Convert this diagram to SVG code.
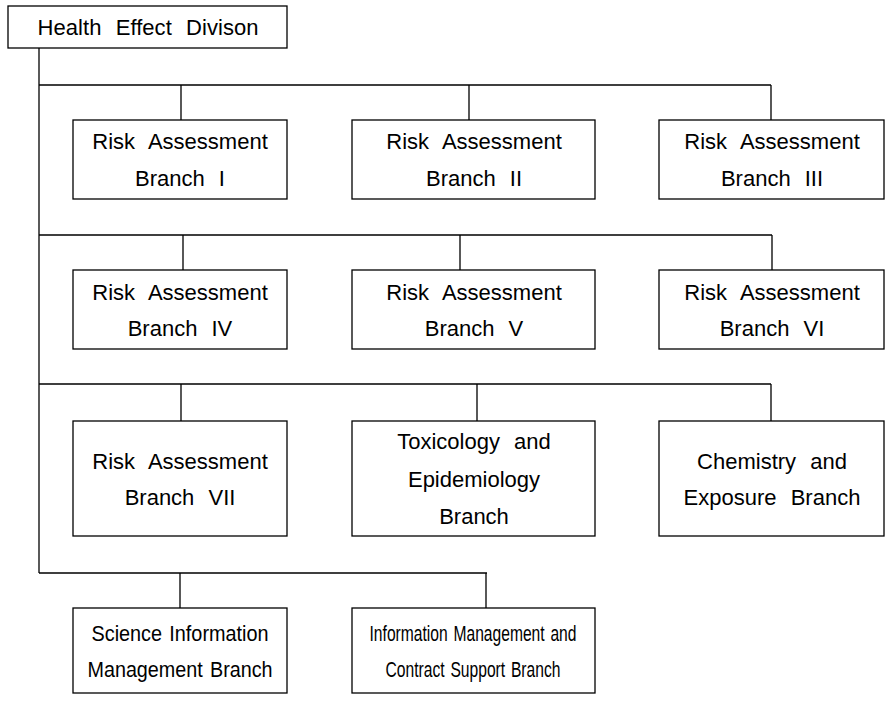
<svg xmlns="http://www.w3.org/2000/svg" width="892" height="706" viewBox="0 0 892 706">
<style>
.box{fill:#fff;stroke:#000;stroke-width:1.3}
.ln{fill:none;stroke:#000;stroke-width:1.3}
text{font-family:"Liberation Sans",Arial,sans-serif;font-size:22px;fill:#000;text-anchor:middle;word-spacing:8px}
.sm{font-size:22px;word-spacing:2px}
</style>
<rect width="892" height="706" fill="#fff"/>
<g id="connectors">
<path class="ln" d="M39,48V573"/>
<path class="ln" d="M39,85H771M181,85V120M469,85V120M771,85V120"/>
<path class="ln" d="M39,235H772M183,235V270M460,235V270M772,235V270"/>
<path class="ln" d="M39,384H771M181,384V421M477,384V421M771,384V421"/>
<path class="ln" d="M39,573H487M180,573V608M486,573V608"/>
</g>
<g id="hed"><rect class="box" x="8" y="6" width="279" height="42"/><text x="148" y="35" textLength="221">Health Effect Divison</text></g>
<g id="ra1"><rect class="box" x="73" y="120" width="214" height="79"/><text x="180" y="149">Risk Assessment</text><text x="180" y="186">Branch I</text></g>
<g id="ra2"><rect class="box" x="352" y="120" width="243" height="79"/><text x="474" y="149">Risk Assessment</text><text x="474" y="186">Branch II</text></g>
<g id="ra3"><rect class="box" x="659" y="120" width="225" height="79"/><text x="772" y="149">Risk Assessment</text><text x="772" y="186">Branch III</text></g>
<g id="ra4"><rect class="box" x="73" y="270" width="214" height="79"/><text x="180" y="300">Risk Assessment</text><text x="180" y="336">Branch IV</text></g>
<g id="ra5"><rect class="box" x="352" y="270" width="243" height="79"/><text x="474" y="300">Risk Assessment</text><text x="474" y="336">Branch V</text></g>
<g id="ra6"><rect class="box" x="659" y="270" width="225" height="79"/><text x="772" y="300">Risk Assessment</text><text x="772" y="336">Branch VI</text></g>
<g id="ra7"><rect class="box" x="73" y="421" width="214" height="115"/><text x="180" y="469">Risk Assessment</text><text x="180" y="505">Branch VII</text></g>
<g id="tox"><rect class="box" x="352" y="421" width="243" height="115"/><text x="474" y="449">Toxicology and</text><text x="474" y="487">Epidemiology</text><text x="474" y="524">Branch</text></g>
<g id="chem"><rect class="box" x="659" y="421" width="225" height="115"/><text x="772" y="469">Chemistry and</text><text x="772" y="505">Exposure Branch</text></g>
<g id="sim"><rect class="box" x="73" y="608" width="214" height="85"/><text class="sm" x="180" y="641" textLength="177" lengthAdjust="spacingAndGlyphs">Science Information</text><text class="sm" x="180" y="677" textLength="185" lengthAdjust="spacingAndGlyphs">Management Branch</text></g>
<g id="imcs"><rect class="box" x="352" y="608" width="243" height="85"/><text class="sm" x="473" y="641" textLength="207" lengthAdjust="spacingAndGlyphs">Information Management and</text><text class="sm" x="473" y="677" textLength="175" lengthAdjust="spacingAndGlyphs">Contract Support Branch</text></g>
</svg>
